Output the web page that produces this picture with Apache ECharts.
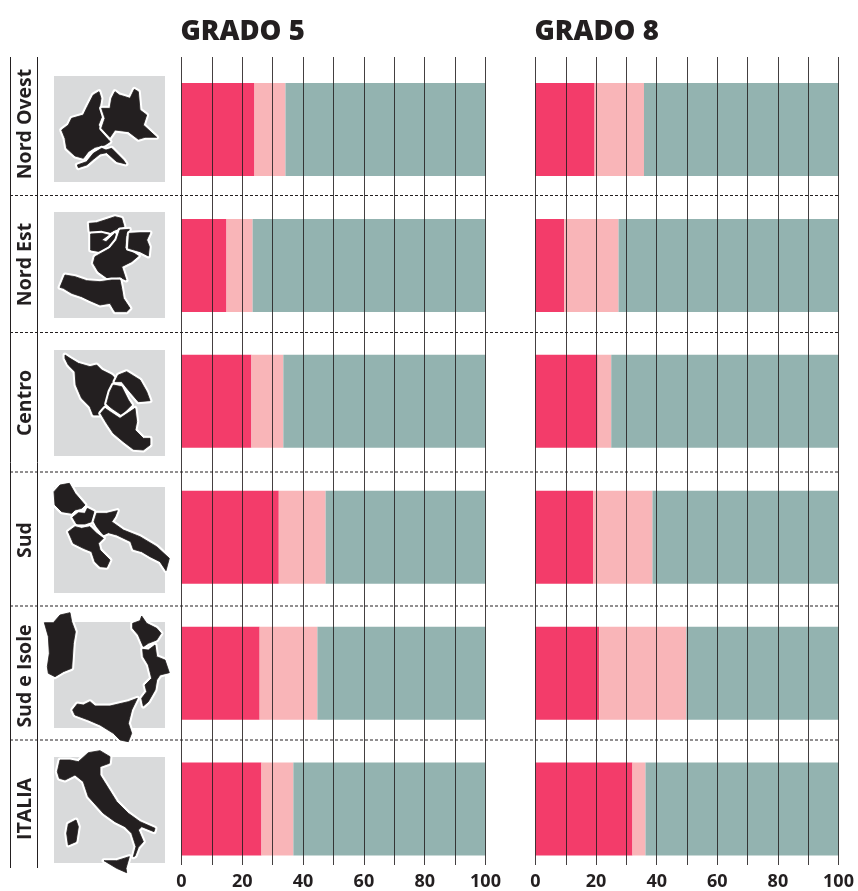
<!DOCTYPE html>
<html><head><meta charset="utf-8">
<style>html,body{margin:0;padding:0;background:#fff}#c{width:858px;height:891px}</style>
<script src="https://cdn.jsdelivr.net/npm/echarts@6/dist/echarts.min.js"></script>
</head><body><div id="c"></div>
<script>
const regions = ['Nord Ovest','Nord Est','Centro','Sud','Sud e Isole','ITALIA'];
const panels = ['GRADO 5','GRADO 8'];
const axisTicks = [0,20,40,60,80,100];
const seriesNames = ['Livello basso','Livello medio','Livello alto'];
const grado5Low  = [24,14.8,23,32,25.7,26.3];
const grado5Mid  = [10.2,8.6,10.5,15.4,19,10.5];
const grado5High = [65.8,76.6,66.5,52.6,55.3,63.2];
const grado8Low  = [19.5,9.5,20.5,19,21,32];
const grado8Mid  = [16.3,17.9,4.5,19.6,28.8,4.3];
const grado8High = [64.2,72.6,75,61.4,50.2,63.7];

// decorative map outlines, in a 3x sketch space: [rowTopOffset, polygons]
const mapShapes = [
 [50,[
  [185,240,205,225,215,205,250,195,262,170,280,135,297,125,303,145,298,175,305,200,295,225,310,250,330,275,315,285,285,292,265,305,250,325,225,318,200,295,195,265],
  [305,175,330,175,335,145,345,125,358,135,375,140,390,145,403,118,415,125,420,180,440,195,430,225,470,262,435,262,415,268,385,245,345,240,330,262,305,235,315,205],
  [232,345,260,335,280,310,305,295,318,300,335,295,350,310,370,330,378,342,350,335,320,308,300,312,280,328,260,345,235,353]]],
 [50,[
  [268,520,290,518,315,510,345,500,365,505,372,530,345,540,330,548,305,545,270,545],
  [272,552,305,550,325,555,305,570,318,575,345,550,350,560,328,590,300,605,272,600],
  [360,540,388,538,378,560,375,595,395,605,415,618,395,635,365,650,378,690,358,682,330,690,295,665,280,640,285,620,330,595,350,570],
  [388,550,420,548,450,548,440,570,448,590,445,618,420,605,385,595],
  [195,675,225,680,260,692,300,695,335,690,360,690,365,715,370,745,390,775,380,785,345,785,330,760,300,765,270,752,245,740,215,730,190,715,180,712]]],
 [330,[
  [195,75,210,85,235,100,270,110,290,105,305,120,335,135,350,150,330,170,318,220,300,255,280,255,270,230,245,205,228,165,225,125,205,105,195,85],
  [355,135,380,125,420,150,440,185,450,212,415,215,385,180,365,155,345,155],
  [340,165,365,170,385,210,395,225,365,255,335,235,320,222,330,185],
  [315,235,330,245,360,265,405,235,410,275,405,300,430,325,450,325,450,345,430,360,400,358,370,335,340,310,320,280,302,250]]],
 [330,[
  [162,485,180,465,208,460,225,490,255,525,245,535,225,540,215,550,185,545,165,525],
  [218,562,235,548,255,550,262,535,282,545,275,575,255,582,230,582],
  [282,575,290,550,320,550,352,542,345,560,335,575,370,600,420,620,470,650,508,685,498,722,480,695,450,680,425,665,400,658,392,635,350,615,325,608,310,615,290,590],
  [205,605,225,590,245,595,270,590,290,610,310,625,295,640,300,660,330,690,320,712,300,710,285,695,275,665,250,655,220,640]]],
 [600,[
  [133,68,160,68,180,45,210,38,215,65,226,95,220,130,215,205,190,215,165,230,145,220,142,200,148,160,145,110],
  [398,70,420,62,425,48,440,70,470,85,483,100,470,120,445,130,430,140,415,105,398,85],
  [428,148,445,150,465,135,470,170,495,180,508,218,480,225,470,240,465,270,445,305,430,318,425,295,440,275,435,255,455,235,445,195,430,170],
  [218,330,232,312,250,315,270,305,285,318,330,318,385,305,412,295,395,330,385,370,395,400,385,425,360,420,340,400,300,375,265,360,225,345]]],
 [600,[
  [172,515,180,480,210,480,235,485,265,458,300,452,330,470,328,490,300,500,300,525,325,565,350,605,385,640,420,665,465,685,462,695,425,680,415,690,430,725,415,742,405,768,400,770,408,740,395,700,375,680,345,665,310,640,265,590,250,545,225,525,195,540,178,535],
  [205,672,228,660,235,680,228,725,205,735,200,700],
  [312,782,350,782,388,770,378,805,380,818,350,805]]]
];
const labelCentres = [124,264.5,403,540,676,809];
const boxTops = [76,212,350,487,622,757];
const separators = [195.5,332.5,472,606,740];

const INK='#231f20', FONT='"Open Sans","Noto Sans",sans-serif';
const COL=['#f33c6a','#f9b5b8','#93b3b0'];
const panelData=[[grado5Low,grado5Mid,grado5High],[grado8Low,grado8Mid,grado8High]];
const lefts=[181.5,535.5], widths=[304,303];

const grid=[],xAxis=[],yAxis=[],series=[],title=[];
panels.forEach((p,i)=>{
  title.push({text:p,left:lefts[i]-1,top:18,textStyle:{fontFamily:FONT,fontWeight:800,fontSize:27.5,color:INK},padding:0});
  grid.push({left:lefts[i],width:widths[i],top:61.5,height:815.5});
  xAxis.push({gridIndex:2*i,type:'value',min:0,max:100,show:false});
  yAxis.push({gridIndex:2*i,type:'category',inverse:true,data:regions,show:false});
  seriesNames.forEach((n,k)=>series.push({name:n,type:'bar',stack:'s'+i,xAxisIndex:2*i,yAxisIndex:2*i,
    data:panelData[i][k],barWidth:93,itemStyle:{color:COL[k]},silent:true,z:2}));
  grid.push({left:lefts[i],width:widths[i],top:57,height:811});
  xAxis.push({gridIndex:2*i+1,type:'value',min:0,max:100,interval:10,z:6,
    axisLine:{show:false},axisTick:{show:false},
    splitLine:{show:true,lineStyle:{color:'rgba(35,31,32,0.85)',width:1}},
    axisLabel:{show:true,margin:8,fontFamily:FONT,fontWeight:700,fontSize:18,color:INK,
      formatter:v=>axisTicks.includes(v)?String(v):''}});
  yAxis.push({gridIndex:2*i+1,type:'value',min:0,max:1,show:false});
});

const graphic=[];
const line=(x1,y1,x2,y2,dash)=>({type:'line',silent:true,z:7,shape:{x1,y1,x2,y2},
  style:{stroke:INK,lineWidth:1,lineDash:dash||null}});
[10.5,37.5].forEach(x=>graphic.push(line(x,57,x,868)));
separators.forEach(y=>graphic.push(line(10,y,838,y,[3,2])));
boxTops.forEach(t=>graphic.push({type:'rect',silent:true,z:1,shape:{x:54,y:t,width:111,height:106},style:{fill:'#d9dadb'}}));
mapShapes.forEach(([y0,polys])=>polys.forEach(pts=>{
  const points=[];for(let j=0;j<pts.length;j+=2)points.push([pts[j]/3,y0+pts[j+1]/3]);
  graphic.push({type:'polygon',silent:true,z:8,shape:{points},
    style:{fill:'#fff',stroke:'#fff',lineWidth:5,lineJoin:'round'}});
  graphic.push({type:'polygon',silent:true,z:8,shape:{points},
    style:{fill:INK,stroke:INK,lineWidth:0.8,lineJoin:'round'}});
}));
regions.forEach((r,i)=>graphic.push({type:'text',silent:true,z:9,x:25,y:labelCentres[i],rotation:Math.PI/2,
  style:{text:r,fontFamily:FONT,fontWeight:700,fontSize:19.5,fill:INK,align:'center',verticalAlign:'middle'}}));

const chart=echarts.init(document.getElementById('c'),null,{renderer:'canvas'});
chart.setOption({animation:false,backgroundColor:'#fff',title,grid,xAxis,yAxis,series,graphic,tooltip:{show:false},legend:{show:false}});
</script></body></html>
